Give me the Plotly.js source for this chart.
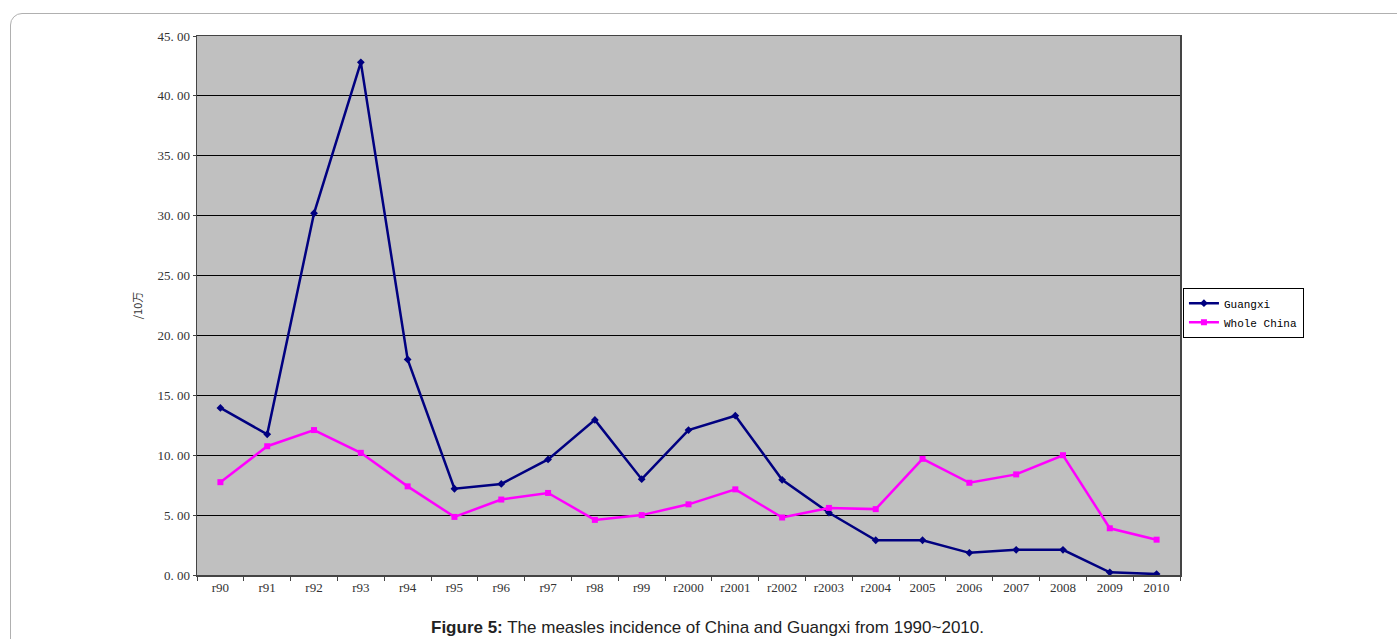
<!DOCTYPE html>
<html>
<head>
<meta charset="utf-8">
<script src="https://cdn.plot.ly/plotly-3.0.1.min.js"></script>
<style>
html,body{margin:0;padding:0;background:#fff;overflow:hidden;}
#frame{position:absolute;left:10px;top:13px;width:1400px;height:700px;border:1px solid #b0b0b0;border-radius:12px;box-sizing:border-box;}
#chart{position:absolute;left:0;top:0;width:1397px;height:639px;}
</style>
</head>
<body>
<div id="frame"></div>
<div id="chart"></div>
<script>
const categories = ["r90","r91","r92","r93","r94","r95","r96","r97","r98","r99","r2000","r2001","r2002","r2003","r2004","2005","2006","2007","2008","2009","2010"];
const guangxi = [13.95,11.75,30.2,42.8,18.0,7.2,7.6,9.65,12.95,8.0,12.1,13.3,7.95,5.2,2.9,2.9,1.85,2.1,2.1,0.22,0.08];
const wholeChina = [7.75,10.75,12.1,10.2,7.4,4.85,6.3,6.85,4.6,5.0,5.9,7.15,4.8,5.6,5.5,9.7,7.7,8.4,10.0,3.9,2.95];
const yTickVals = [0,5,10,15,20,25,30,35,40,45];
const yTickText = ["0. 00","5. 00","10. 00","15. 00","20. 00","25. 00","30. 00","35. 00","40. 00","45. 00"];

const serif = "Liberation Serif, DejaVu Serif, serif";
const mono = "Liberation Mono, DejaVu Sans Mono, monospace";
const traces = [
  {x: categories, y: guangxi, name: "Guangxi", type: "scatter", mode: "lines+markers",
   line: {color: "#000080", width: 2.5}, marker: {symbol: "diamond", size: 6, color: "#000080"}},
  {x: categories, y: wholeChina, name: "Whole China", type: "scatter", mode: "lines+markers",
   line: {color: "#ff00ff", width: 2.5}, marker: {symbol: "square", size: 6, color: "#ff00ff"}}
];
const layout = {
  width: 1397, height: 639,
  margin: {l: 197, r: 217, t: 36, b: 64},
  paper_bgcolor: "rgba(0,0,0,0)",
  plot_bgcolor: "#c0c0c0",
  font: {family: serif, size: 13, color: "#333"},
  showlegend: true,
  legend: {x: 1.003, y: 0.533, xanchor: "left", yanchor: "top", bgcolor: "#fff",
           bordercolor: "#000", borderwidth: 1, font: {family: mono, size: 11, color: "#000"},
           tracegroupgap: 0, itemwidth: 30},
  xaxis: {type: "category", range: [-0.5, 20.5], showline: true, linecolor: "#444", linewidth: 1.5, mirror: true,
          ticks: "outside", tickson: "boundaries", ticklen: 4, tickcolor: "#444",
          showgrid: false, tickfont: {family: serif, size: 13, color: "#333"}, automargin: false},
  yaxis: {range: [0, 45], tickvals: yTickVals, ticktext: yTickText, showline: true, linecolor: "#444",
          linewidth: 1.5, mirror: true, ticks: "outside", ticklen: 3, tickcolor: "#444",
          showgrid: true, gridcolor: "#000", gridwidth: 1, zeroline: false,
          tickfont: {family: serif, size: 13, color: "#333"}, automargin: false,
          title: {text: "/10万", font: {family: "Noto Sans CJK SC, serif", size: 11, color: "#333"}, standoff: 12}},
  annotations: [
    {xref: "paper", yref: "paper", x: 0.519, y: -0.098, xanchor: "center", yanchor: "middle", showarrow: false,
     text: "<b>Figure 5:</b> The measles incidence of China and Guangxi from 1990~2010.",
     font: {family: "Liberation Sans, Arial, sans-serif", size: 17, color: "#222"}}
  ]
};
Plotly.newPlot("chart", traces, layout, {displayModeBar: false, staticPlot: true});
</script>
</body>
</html>
